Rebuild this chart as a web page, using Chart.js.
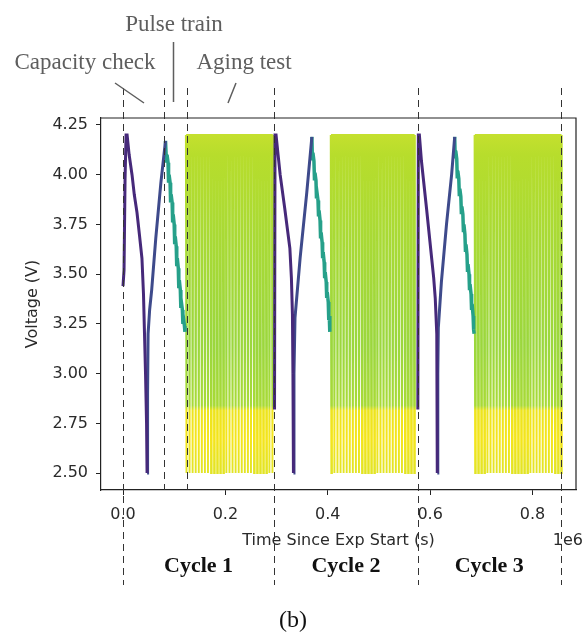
<!DOCTYPE html>
<html>
<head>
<meta charset="utf-8">
<script src="https://cdn.jsdelivr.net/npm/chart.js@4.4.1/dist/chart.umd.min.js"></script>
<style>
  html, body { margin: 0; padding: 0; background: #fff; }
  canvas { display: block; }
</style>
</head>
<body>
<canvas id="chart" width="584" height="633"></canvas>
<script>
// time in kiloseconds since experiment start, voltage in V

// capacity check: charge to 4.2 V then full discharge
const capDischarge1 = [[0, 3.44], [1.5, 3.44], [2, 3.52], [4, 3.98], [6, 4.2], [8, 4.2], [12, 4.1], [17.6, 4.0],
  [22, 3.9], [27.3, 3.81], [32, 3.7], [37, 3.58], [40, 3.4], [42, 3.2], [44, 3.0], [46, 2.75], [47, 2.5]]
const capDischarge2 = [[296, 2.82], [297, 4.2], [299, 4.2], [303, 4.1], [307, 4.0], [316, 3.83], [326, 3.63],
  [329, 3.48], [331, 3.3], [332, 3.0], [333, 2.5]]
const capDischarge3 = [[576, 2.82], [577, 4.2], [579, 4.2], [583, 4.07], [593, 3.83], [603, 3.58], [607, 3.48],
  [610, 3.38], [613, 3.2], [614, 2.5]]

// capacity check: recharge back to the top
const capCharge1 = [[47, 2.5], [48, 2.9], [49, 3.2], [52, 3.32], [56, 3.42], [64, 3.68], [74, 3.96], [83, 4.17]]
const capCharge2 = [[333, 2.5], [334, 3.0], [336, 3.28], [346, 3.58], [359, 3.91], [369, 4.19]]
const capCharge3 = [[614, 2.5], [615, 3.0], [616, 3.23], [622, 3.46], [632, 3.75], [642, 4.0], [648, 4.19]]

// pulse train: stepped discharge with recovery after each pulse
const pulse1 = [[83, 4.17], [85, 4.06], [86, 4.1], [88, 4.06], [89, 3.96], [90, 4.0], [92, 3.96], [93, 3.86],
  [94, 3.9], [96, 3.86], [97, 3.76], [98, 3.8], [100, 3.75], [101, 3.65], [102, 3.69], [104, 3.64], [105, 3.54],
  [106, 3.58], [108, 3.53], [109, 3.43], [110, 3.47], [112, 3.42], [113, 3.33], [114, 3.36], [116, 3.32],
  [117, 3.25], [118, 3.28], [120, 3.24], [121, 3.21]]
const pulse2 = [[369, 4.19], [370, 4.08], [371, 4.11], [373, 4.07], [374, 3.98], [375, 4.01], [377, 3.97],
  [378, 3.88], [379, 3.91], [381, 3.87], [382, 3.79], [383, 3.82], [385, 3.77], [386, 3.68], [387, 3.71],
  [389, 3.66], [390, 3.58], [391, 3.61], [393, 3.56], [394, 3.48], [395, 3.51], [397, 3.46], [398, 3.38],
  [399, 3.41], [401, 3.36], [402, 3.27], [403, 3.29], [404, 3.21]]
const pulse3 = [[648, 4.19], [649, 4.09], [650, 4.12], [652, 4.08], [653, 3.99], [654, 4.02], [656, 3.98],
  [657, 3.9], [658, 3.93], [660, 3.89], [661, 3.81], [662, 3.84], [664, 3.8], [665, 3.72], [666, 3.75],
  [668, 3.7], [669, 3.62], [670, 3.65], [672, 3.6], [673, 3.52], [674, 3.55], [676, 3.5], [677, 3.42],
  [678, 3.45], [680, 3.4], [681, 3.32], [682, 3.35], [684, 3.29], [685, 3.22], [686, 3.2]]

// aging test: times where each full cycle bottoms out at the lower cutoff
const agingTips1 = [124, 130, 136, 142, 148, 154, 160, 166, 172, 178, 184, 190, 196, 202, 208, 214, 220,
  226, 232, 238, 244, 250, 256, 262, 268, 274, 280, 286, 292]
const agingTips2 = [407, 413, 419, 425, 431, 437, 443, 449, 455, 461, 467, 473, 479, 485, 491, 497, 503,
  509, 515, 521, 527, 533, 539, 545, 551, 557, 563, 569]
const agingTips3 = [688, 694, 700, 706, 712, 718, 724, 730, 736, 742, 748, 754, 760, 766, 772, 778, 784,
  790, 796, 802, 808, 814, 820, 826, 832, 838, 844, 850, 856]
const agingVmin = 2.5
const agingVmax = 4.2

const cycleBounds = [0, 295, 576, 855]
const phaseMarks = [80, 125]
const cycleNames = ['Cycle 1', 'Cycle 2', 'Cycle 3']

const pts = arr => arr.map(([x, y]) => ({x, y}))

function agingSeries(tips) {
  let out = []
  tips.forEach(t => {
    out.push({x: t - 1.2, y: agingVmax}, {x: t, y: agingVmin}, {x: t + 1.2, y: agingVmax})
  })
  return out
}

// yellow-green on the upper part of each swing, yellow near the cutoff
function agingColor(ctx) {
  const chart = ctx.chart
  if (!chart.chartArea) return '#a8da36'
  const y = chart.scales.y
  const top = y.getPixelForValue(agingVmax)
  const bot = y.getPixelForValue(agingVmin)
  const g = chart.ctx.createLinearGradient(0, top, 0, bot)
  g.addColorStop(0, '#c4e02e')
  g.addColorStop(0.06, '#b7dd2c')
  g.addColorStop(0.3, '#a9da35')
  g.addColorStop(0.62, '#9bd73d')
  g.addColorStop(0.8, '#a8da36')
  g.addColorStop(0.815, '#ede41d')
  g.addColorStop(0.9, '#f4e51b')
  g.addColorStop(1, '#e2e425')
  return g
}

const datasets = []
;[capDischarge1, capDischarge2, capDischarge3].forEach(d => {
  datasets.push({data: pts(d), borderColor: '#46297a', borderWidth: 3})
})
;[capCharge1, capCharge2, capCharge3].forEach(d => {
  datasets.push({data: pts(d), borderColor: '#3e4a8b', borderWidth: 3})
})
;[pulse1, pulse2, pulse3].forEach(d => {
  datasets.push({data: pts(d), borderColor: '#26a08a', borderWidth: 3.5})
})
;[agingTips1, agingTips2, agingTips3].forEach(d => {
  datasets.push({data: agingSeries(d), borderColor: agingColor, borderWidth: 1.9})
})

const tickFont = {family: 'DejaVu Sans', size: 16}

const decorations = {
  id: 'decorations',
  afterDatasetsDraw(chart) {
    const {ctx, chartArea: a, scales: {x}} = chart
    ctx.save()
    ctx.strokeStyle = '#222'
    ctx.lineWidth = 1.2
    ctx.beginPath()
    ctx.moveTo(a.left, a.top)
    ctx.lineTo(a.right, a.top)
    ctx.lineTo(a.right, a.bottom)
    ctx.stroke()

    ctx.setLineDash([7, 5])
    ctx.lineWidth = 1
    ctx.strokeStyle = '#333'
    const vline = (t, y0, y1) => {
      const px = Math.round(x.getPixelForValue(t)) + 0.5
      ctx.beginPath()
      ctx.moveTo(px, y0)
      ctx.lineTo(px, y1)
      ctx.stroke()
    }
    cycleBounds.forEach(t => vline(t, a.top - 30, a.bottom + 95))
    phaseMarks.forEach(t => vline(t, a.top - 30, a.bottom))
    ctx.restore()
  },
  afterDraw(chart) {
    const {ctx, chartArea: a, scales: {x}} = chart
    ctx.save()
    // phase annotations above the plot
    ctx.fillStyle = '#5e5e5e'
    ctx.font = '23px "Liberation Serif"'
    ctx.textAlign = 'center'
    ctx.textBaseline = 'alphabetic'
    ctx.fillText('Pulse train', 174, 31)
    ctx.fillText('Capacity check', 85, 69)
    ctx.fillText('Aging test', 244, 69)
    ctx.strokeStyle = '#5e5e5e'
    ctx.lineWidth = 1.5
    ctx.beginPath()
    ctx.moveTo(173.5, 42); ctx.lineTo(173.5, 102)
    ctx.moveTo(115, 83); ctx.lineTo(144, 103)
    ctx.moveTo(236, 83); ctx.lineTo(228, 103)
    ctx.stroke()

    // x offset text
    ctx.fillStyle = '#2a2a2a'
    ctx.font = '16px "DejaVu Sans"'
    ctx.textAlign = 'right'
    ctx.textBaseline = 'middle'
    ctx.fillText('1e6', 583, 541)

    // cycle names between the dashed bounds
    ctx.fillStyle = '#111'
    ctx.font = 'bold 22px "Liberation Serif"'
    ctx.textAlign = 'center'
    ctx.textBaseline = 'alphabetic'
    cycleNames.forEach((name, i) => {
      const cx = (x.getPixelForValue(cycleBounds[i]) + x.getPixelForValue(cycleBounds[i + 1])) / 2
      ctx.fillText(name, cx, 572)
    })

    ctx.font = '24px "Liberation Serif"'
    ctx.fillText('(b)', 293, 627)
    ctx.restore()
  }
}

new Chart(document.getElementById('chart'), {
  type: 'line',
  data: {datasets},
  options: {
    responsive: false,
    animation: false,
    devicePixelRatio: 1,
    layout: {padding: {top: 118, right: 8, left: 0, bottom: 68}},
    elements: {point: {radius: 0}, line: {tension: 0}},
    plugins: {legend: {display: false}, tooltip: {enabled: false}},
    scales: {
      x: {
        type: 'linear',
        min: -43,
        max: 885,
        afterFit: s => { s.height = 75 },
        border: {color: '#222', width: 1.2},
        grid: {drawOnChartArea: false, tickLength: 5, color: '#222'},
        ticks: {
          stepSize: 200, includeBounds: false, padding: 10, color: '#2a2a2a', font: tickFont,
          maxRotation: 0, callback: v => (v / 1000).toFixed(1)
        },
        title: {display: true, text: 'Time Since Exp Start (s)', color: '#2a2a2a', font: tickFont,
          padding: {top: 0, bottom: 15}}
      },
      y: {
        min: 2.415,
        max: 4.285,
        afterFit: s => { s.width = 101 },
        border: {color: '#222', width: 1.2},
        grid: {drawOnChartArea: false, tickLength: 5, color: '#222'},
        ticks: {
          stepSize: 0.25, includeBounds: false, padding: 8, color: '#2a2a2a', font: tickFont,
          callback: v => v.toFixed(2)
        },
        title: {display: true, text: 'Voltage (V)', color: '#2a2a2a', font: tickFont,
          padding: {top: 23, bottom: 0}}
      }
    }
  },
  plugins: [decorations]
})
</script>
</body>
</html>
